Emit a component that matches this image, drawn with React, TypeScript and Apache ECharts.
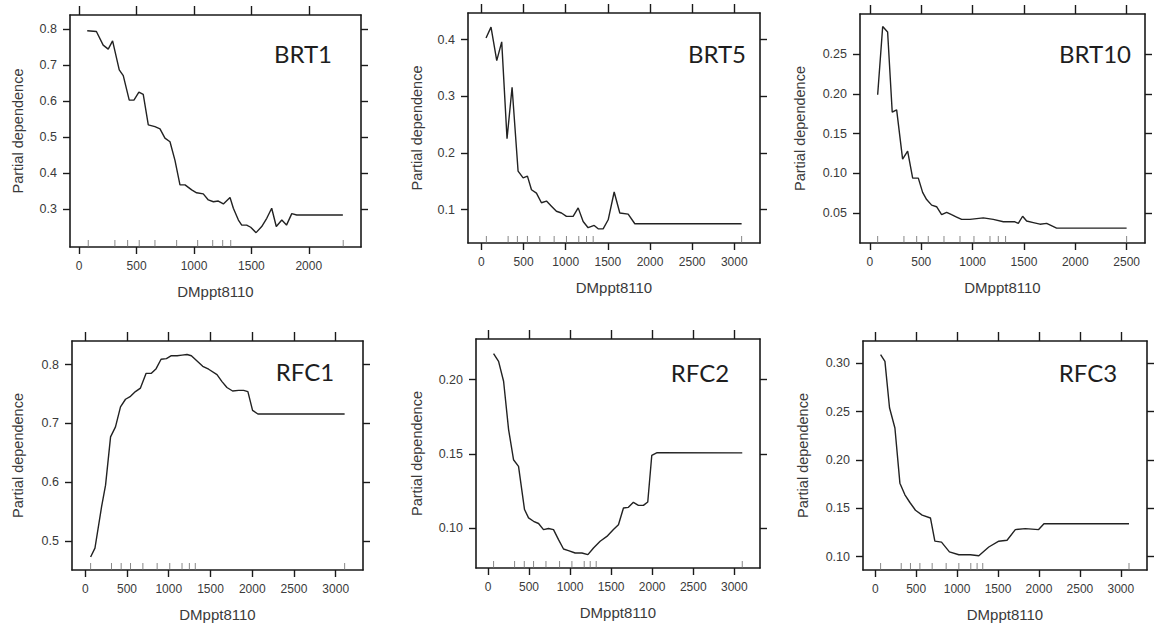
import React, { useEffect, useRef } from "react";
import * as echarts from "echarts";

// ---- data ----
const brt1X = [70, 150, 209, 253, 291, 349, 384, 436, 477, 520, 558, 602, 660, 704, 747, 791, 834, 878, 922, 980, 1023, 1081, 1125, 1169, 1212, 1256, 1314, 1343, 1387, 1416, 1459, 1494, 1541, 1590, 1634, 1677, 1717, 1765, 1806, 1852, 1895, 2297];
const brt1Y = [0.796, 0.794, 0.756, 0.745, 0.768, 0.687, 0.671, 0.603, 0.603, 0.625, 0.619, 0.534, 0.529, 0.523, 0.497, 0.487, 0.436, 0.367, 0.367, 0.353, 0.345, 0.342, 0.325, 0.32, 0.322, 0.314, 0.332, 0.302, 0.269, 0.255, 0.255, 0.249, 0.234, 0.251, 0.274, 0.302, 0.251, 0.269, 0.255, 0.287, 0.283, 0.283];

const brt5X = [55, 114, 182, 241, 304, 364, 435, 495, 546, 594, 653, 712, 772, 831, 890, 950, 1009, 1088, 1148, 1207, 1266, 1338, 1385, 1444, 1504, 1575, 1642, 1741, 1820, 3087];
const brt5Y = [0.403, 0.422, 0.363, 0.396, 0.225, 0.316, 0.168, 0.156, 0.159, 0.135, 0.129, 0.112, 0.115, 0.106, 0.097, 0.094, 0.088, 0.088, 0.103, 0.079, 0.068, 0.072, 0.066, 0.066, 0.082, 0.131, 0.094, 0.092, 0.075, 0.075];

const brt10X = [75, 124, 172, 217, 260, 318, 367, 416, 471, 513, 552, 601, 649, 698, 747, 795, 844, 893, 974, 1104, 1201, 1299, 1412, 1445, 1487, 1526, 1591, 1656, 1721, 1818, 2500];
const brt10Y = [0.199, 0.285, 0.278, 0.177, 0.18, 0.118, 0.128, 0.094, 0.094, 0.076, 0.067, 0.06, 0.058, 0.048, 0.051, 0.048, 0.045, 0.042, 0.042, 0.044, 0.042, 0.039, 0.039, 0.037, 0.046, 0.04, 0.038, 0.036, 0.037, 0.031, 0.031];

const rfc1X = [64, 116, 195, 243, 303, 362, 422, 482, 542, 601, 661, 729, 792, 849, 908, 972, 1031, 1100, 1159, 1219, 1271, 1339, 1407, 1478, 1578, 1638, 1697, 1765, 1837, 1897, 1948, 2004, 2068, 3107];
const rfc1Y = [0.473, 0.488, 0.558, 0.595, 0.677, 0.694, 0.728, 0.741, 0.746, 0.754, 0.76, 0.785, 0.785, 0.793, 0.809, 0.81, 0.815, 0.815, 0.816, 0.817, 0.815, 0.806, 0.797, 0.792, 0.783, 0.771, 0.761, 0.755, 0.756, 0.756, 0.754, 0.722, 0.716, 0.716];

const rfc2X = [68, 129, 190, 251, 311, 372, 445, 494, 555, 616, 676, 737, 798, 859, 920, 980, 1062, 1144, 1217, 1285, 1366, 1448, 1528, 1589, 1650, 1710, 1771, 1832, 1893, 1946, 1995, 2060, 3097];
const rfc2Y = [0.2175, 0.2123, 0.1989, 0.1663, 0.146, 0.1415, 0.1124, 0.1068, 0.1045, 0.103, 0.0989, 0.0996, 0.0989, 0.0921, 0.0858, 0.0847, 0.0831, 0.0831, 0.082, 0.0865, 0.091, 0.0943, 0.0989, 0.1022, 0.1135, 0.1139, 0.1173, 0.1152, 0.1152, 0.1175, 0.149, 0.1508, 0.1506];

const rfc3X = [65, 118, 174, 240, 301, 362, 423, 491, 573, 674, 728, 809, 906, 1021, 1162, 1265, 1387, 1509, 1610, 1711, 1833, 1996, 2061, 3100];
const rfc3Y = [0.309, 0.302, 0.254, 0.233, 0.176, 0.164, 0.156, 0.148, 0.143, 0.14, 0.116, 0.115, 0.105, 0.102, 0.102, 0.101, 0.11, 0.116, 0.117, 0.128, 0.129, 0.128, 0.134, 0.134];

// rug (deciles of DMppt8110)
const rugBrt1 = [79, 311, 422, 523, 660, 849, 1032, 1163, 1250, 1320, 2300];
const rugBrt5 = [59, 317, 427, 546, 693, 863, 1009, 1155, 1247, 1326, 3087];
const rugBrt10 = [75, 331, 455, 568, 721, 877, 1013, 1169, 1250, 1321, 2500];
const rugRfc1 = [64, 314, 430, 542, 690, 861, 1012, 1159, 1247, 1318, 3107];
const rugRfc2 = [68, 324, 442, 555, 706, 872, 1022, 1172, 1245, 1318, 3097];
const rugRfc3 = [65, 317, 430, 545, 695, 866, 1021, 1167, 1244, 1313, 3100];

// tick labels
const xTicks2000 = [0, 500, 1000, 1500, 2000];
const xTicks2500 = [0, 500, 1000, 1500, 2000, 2500];
const xTicks3000 = [0, 500, 1000, 1500, 2000, 2500, 3000];
const yTicksBrt1 = [0.3, 0.4, 0.5, 0.6, 0.7, 0.8];
const yTicksBrt5 = [0.1, 0.2, 0.3, 0.4];
const yTicksBrt10 = [0.05, 0.1, 0.15, 0.2, 0.25];
const yTicksRfc1 = [0.5, 0.6, 0.7, 0.8];
const yTicksRfc2 = [0.1, 0.15, 0.2];
const yTicksRfc3 = [0.1, 0.15, 0.2, 0.25, 0.3];

const panelNames = ["BRT1", "BRT5", "BRT10", "RFC1", "RFC2", "RFC3"];
const xTitle = "DMppt8110";
const yTitle = "Partial dependence";

// ---- layout ----
const panels = [
  { xs: brt1X, ys: brt1Y, rug: rugBrt1, xt: xTicks2000, yt: yTicksBrt1, dec: 1, xr: [-80, 2455], yr: [0.194, 0.84], g: [70, 15, 291, 232], lab: [303, 53], yn: 18 },
  { xs: brt5X, ys: brt5Y, rug: rugBrt5, xt: xTicks3000, yt: yTicksBrt5, dec: 1, xr: [-159, 3305], yr: [0.041, 0.447], g: [468, 13, 292, 230], lab: [717, 53], yn: 417 },
  { xs: brt10X, ys: brt10Y, rug: rugBrt10, xt: xTicks2500, yt: yTicksBrt10, dec: 2, xr: [-97, 2679], yr: [0.0123, 0.3007], g: [860, 14, 285, 229], lab: [1095, 53], yn: 800 },
  { xs: rfc1X, ys: rfc1Y, rug: rugRfc1, xt: xTicks3000, yt: yTicksRfc1, dec: 1, xr: [-159, 3327], yr: [0.4508, 0.84], g: [72, 341, 291, 229], lab: [305, 371], yn: 18 },
  { xs: rfc2X, ys: rfc2Y, rug: rugRfc2, xt: xTicks3000, yt: yTicksRfc2, dec: 2, xr: [-146, 3313], yr: [0.073, 0.2274], g: [476, 339, 284, 229], lab: [700, 372], yn: 417 },
  { xs: rfc3X, ys: rfc3Y, rug: rugRfc3, xt: xTicks3000, yt: yTicksRfc3, dec: 2, xr: [-150, 3320], yr: [0.0862, 0.323], g: [863, 341, 284, 229], lab: [1088, 372], yn: 803 },
];

const AX = "#1a1a1a";
const TXT = "#3a3a3a";
const FONT = "Liberation Sans, Arial, sans-serif";

export default function App() {
  const ref = useRef<HTMLDivElement>(null);
  useEffect(() => {
    if (!ref.current) return;
    const chart = echarts.init(ref.current, null, { renderer: "svg" });
    const grid: any[] = [];
    const xAxis: any[] = [];
    const yAxis: any[] = [];
    const series: any[] = [];
    const graphic: any[] = [];
    panels.forEach((p, i) => {
      const [left, top, width, height] = p.g;
      grid.push({ left, top, width, height, containLabel: false });
      const tickStyle = { lineStyle: { color: AX, width: 1.4 }, length: 7 };
      const lineStyle = { show: true, onZero: false, lineStyle: { color: AX, width: 1.6 } };
      xAxis.push({
        type: "value", gridIndex: i, position: "bottom", min: p.xr[0], max: p.xr[1],
        axisLine: lineStyle, splitLine: { show: false },
        axisTick: { show: true, customValues: p.xt, ...tickStyle },
        axisLabel: { show: true, customValues: p.xt, margin: 13, color: TXT, fontSize: 12, fontFamily: FONT, formatter: (v: number) => String(v) },
      });
      xAxis.push({
        type: "value", gridIndex: i, position: "top", min: p.xr[0], max: p.xr[1],
        axisLine: lineStyle, splitLine: { show: false },
        axisTick: { show: true, customValues: p.xt, ...tickStyle, length: 9 },
        axisLabel: { show: false },
      });
      yAxis.push({
        type: "value", gridIndex: i, position: "left", min: p.yr[0], max: p.yr[1],
        axisLine: lineStyle, splitLine: { show: false },
        axisTick: { show: true, customValues: p.yt, ...tickStyle },
        axisLabel: { show: true, customValues: p.yt, margin: 13, color: TXT, fontSize: 12.5, fontFamily: FONT, formatter: (v: number) => v.toFixed(p.dec) },
      });
      yAxis.push({
        type: "value", gridIndex: i, position: "right", min: p.yr[0], max: p.yr[1],
        axisLine: lineStyle, splitLine: { show: false },
        axisTick: { show: true, customValues: p.yt, ...tickStyle },
        axisLabel: { show: false },
      });
      series.push({
        type: "line", xAxisIndex: 2 * i, yAxisIndex: 2 * i,
        data: p.xs.map((x, k) => [x, p.ys[k]]),
        showSymbol: false, symbol: "none",
        lineStyle: { color: "#222222", width: 1.4 },
        silent: true,
      });
      series.push({
        type: "scatter", xAxisIndex: 2 * i, yAxisIndex: 2 * i,
        data: p.rug.map((x) => [x, p.yr[0]]),
        symbol: "rect", symbolSize: [1, 7], symbolOffset: [0, -3.5],
        itemStyle: { color: "#6a6a6a" },
        silent: true, clip: false,
      });
      const cx = left + width / 2;
      const cy = top + height / 2;
      graphic.push({
        type: "text", x: p.yn, y: cy, rotation: Math.PI / 2,
        style: { text: yTitle, fontSize: 14.5, fill: TXT, fontFamily: FONT, align: "center", verticalAlign: "middle" },
      });
      graphic.push({
        type: "text", x: cx, y: top + height + 44,
        style: { text: xTitle, fontSize: 15, fill: TXT, fontFamily: FONT, align: "center", verticalAlign: "middle" },
      });
      graphic.push({
        type: "text", x: p.lab[0], y: p.lab[1],
        style: { text: panelNames[i], fontSize: 24, fill: "#1e1e1e", fontFamily: "Lato, 'Open Sans', sans-serif", align: "center", verticalAlign: "middle" },
      });
    });
    chart.setOption({
      animation: false,
      backgroundColor: "#ffffff",
      grid, xAxis, yAxis, series, graphic,
    });
    return () => chart.dispose();
  }, []);
  return <div ref={ref} style={{ position: "fixed", left: 0, top: 0, width: 1155, height: 628, background: "#fff" }} />;
}
